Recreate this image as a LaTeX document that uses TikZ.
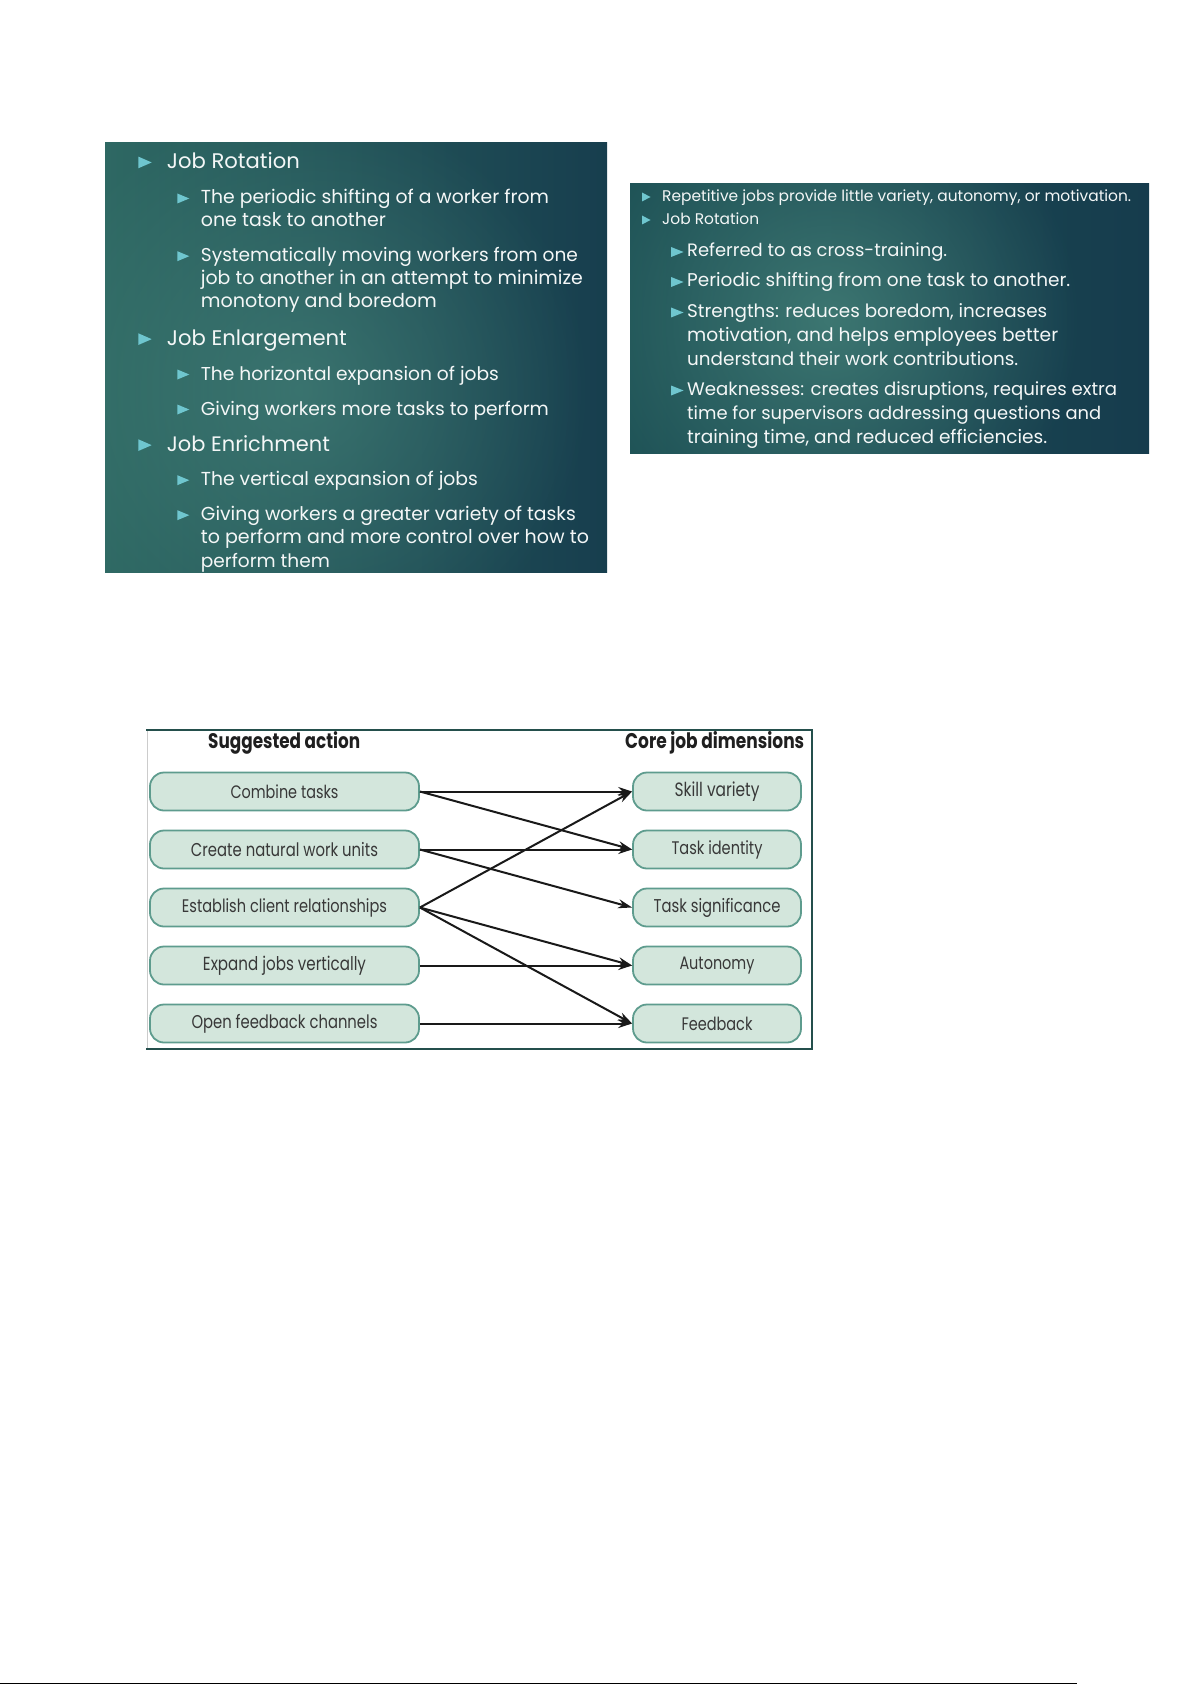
\documentclass[tikz,border=0pt]{standalone}
\usepackage{fontspec}
\usepackage{graphicx}
\setmainfont{Poppins}
\usetikzlibrary{arrows.meta,fadings}
\tikzfading[name=myglow, inner color=transparent!0, outer color=transparent!100]
\definecolor{bulc}{HTML}{6FC6CF}
\definecolor{slidetxt}{HTML}{F4F7F7}
\definecolor{boxfill}{HTML}{D3E6DC}
\definecolor{boxline}{HTML}{5E9C8E}
\definecolor{boxtxt}{HTML}{383838}
\definecolor{framec}{HTML}{244F4C}
\definecolor{lpL}{RGB}{46,104,99}
\definecolor{lpM}{RGB}{50,108,102}
\definecolor{lpR}{RGB}{23,62,78}
\definecolor{lpH}{RGB}{72,134,124}
\definecolor{rpL}{RGB}{30,82,86}
\definecolor{rpM}{RGB}{50,108,104}
\definecolor{rpR}{RGB}{22,60,77}
\definecolor{rpH}{RGB}{72,134,124}
\newcommand{\fitw}[2]{\resizebox{#1pt}{!}{#2}}
\newcommand{\fitd}[2]{\scalebox{1}[1.25]{\resizebox{#1pt}{!}{#2}}}
\newcommand{\bulA}[2]{\fill[bulc] (#1,#2-11.7) -- (#1,#2) -- (#1+13.4,#2-5.85) -- cycle;}
\newcommand{\bulB}[2]{\fill[bulc] (#1,#2-10.5) -- (#1,#2-0.5) -- (#1+12,#2-5.5) -- cycle;}
\newcommand{\bulC}[2]{\fill[bulc] (#1,#2-9) -- (#1,#2) -- (#1+8.5,#2-4.5) -- cycle;}
\newcommand{\bulD}[2]{\fill[bulc] (#1,#2-10) -- (#1,#2) -- (#1+12.5,#2-5) -- cycle;}
\tikzset{
  stxt/.style={anchor=base west, text=slidetxt, inner sep=0pt},
  actbox/.style={draw=boxline, fill=boxfill, line width=1.8pt, rounded corners=14pt,
    minimum width=269pt, minimum height=38pt, text=boxtxt, inner sep=0pt},
  dimbox/.style={actbox, minimum width=168pt},
  hdr/.style={anchor=base west, text=black!88, inner sep=0pt, font=\bfseries},
  link/.style={draw=black!90, line width=2pt, -{Stealth[length=14pt,width=9pt]}}
}
\begin{document}
\begin{tikzpicture}[x=1pt,y=-1pt]
\useasboundingbox (0,0) rectangle (1192,1685);
\fill[white] (0,0) rectangle (1192,1685);

% ---------------- left slide ----------------
\shade[left color=lpL, middle color=lpM, right color=lpR] (105,143) rectangle (607,572);
\begin{scope}
\clip (105,143) rectangle (607,572);
\fill[lpH, path fading=myglow, fill opacity=0.6] (300,390) circle (290);
\end{scope}

\bulA{138.3}{168.3}
\node[stxt] (l1) at (166.7,168.3) {\fitw{133}{Job Rotation}};
\bulB{177.3}{204}
\node[stxt] (l2) at (200.7,204) {\fitw{348}{The periodic shifting of a worker from}};
\node[stxt] (l3) at (200.7,226.7) {\fitw{185}{one task to another}};
\bulB{177.3}{261.7}
\node[stxt] (l4) at (200.7,261.7) {\fitw{377}{Systematically moving workers from one}};
\node[stxt] (l5) at (200.7,285) {\fitw{382}{job to another in an attempt to minimize}};
\node[stxt] (l6) at (200.7,308) {\fitw{236}{monotony and boredom}};
\bulA{138.3}{345}
\node[stxt] (l7) at (166.7,345) {\fitw{180}{Job Enlargement}};
\bulB{177.3}{380}
\node[stxt] (l8) at (200.7,380) {\fitw{298}{The horizontal expansion of jobs}};
\bulB{177.3}{415}
\node[stxt] (l9) at (200.7,415) {\fitw{348}{Giving workers more tasks to perform}};
\bulA{138.3}{451}
\node[stxt] (l10) at (166.7,451) {\fitw{163}{Job Enrichment}};
\bulB{177.3}{485.7}
\node[stxt] (l11) at (200.7,485.7) {\fitw{277}{The vertical expansion of jobs}};
\bulB{177.3}{520.7}
\node[stxt] (l12) at (200.7,520.7) {\fitw{375}{Giving workers a greater variety of tasks}};
\node[stxt] (l13) at (200.7,543.7) {\fitw{388}{to perform and more control over how to}};
\begin{scope}
\clip (105,143) rectangle (607,572);
\node[stxt] (l14) at (200.7,567) {\fitw{129}{perform them}};
\end{scope}

% ---------------- right slide ----------------
\shade[left color=rpL, middle color=rpM, right color=rpR] (630,184) rectangle (1149,453);
\begin{scope}
\clip (630,184) rectangle (1149,453);
\fill[rpH, path fading=myglow, fill opacity=0.75] (830,320) circle (250);
\end{scope}

\bulC{642}{201.5}
\node[stxt] (r1) at (662,201.5) {\fitw{469}{Repetitive jobs provide little variety, autonomy, or motivation.}};
\bulC{642}{224.5}
\node[stxt] (r2) at (662,224.5) {\fitw{97}{Job Rotation}};
\bulD{671}{257}
\node[stxt] (r3) at (687,257) {\fitw{260}{Referred to as cross-training.}};
\bulD{671}{287}
\node[stxt] (r4) at (687,287) {\fitw{383}{Periodic shifting from one task to another.}};
\bulD{671}{317.5}
\node[stxt] (r5) at (687,317.5) {\fitw{360}{Strengths: reduces boredom, increases}};
\node[stxt] (r6) at (687,341.5) {\fitw{371}{motivation, and helps employees better}};
\node[stxt] (r7) at (687,365.5) {\fitw{331}{understand their work contributions.}};
\bulD{671}{395.5}
\node[stxt] (r8) at (687,395.5) {\fitw{430}{Weaknesses: creates disruptions, requires extra}};
\node[stxt] (r9) at (687,419.5) {\fitw{414}{time for supervisors addressing questions and}};
\node[stxt] (r10) at (687,443) {\fitw{360}{training time, and reduced efficiencies.}};

% ---------------- diagram ----------------
\draw[black!20, line width=0.8pt] (147,730) -- (147,1049);
\draw[framec, line width=2pt] (146,730) -- (812,730) -- (812,1049) -- (146,1049);

\node[hdr] (h1) at (208,748) {\fitd{152}{Suggested action}};
\node[hdr] (h2) at (625,748) {\fitd{179}{Core job dimensions}};

\node[actbox] (a1) at (284.5,791.5) {\fitd{108}{Combine tasks}};
\node[actbox] (a2) at (284.5,849.5) {\fitd{187}{Create natural work units}};
\node[actbox] (a3) at (284.5,907.5) {\fitd{205}{Establish client relationships}};
\node[actbox] (a4) at (284.5,965.5) {\fitd{163}{Expand jobs vertically}};
\node[actbox] (a5) at (284.5,1023.5) {\fitd{186}{Open feedback channels}};

\node[dimbox] (d1) at (717,791.5) {\fitd{85}{Skill variety}};
\node[dimbox] (d2) at (717,849.5) {\fitd{91}{Task identity}};
\node[dimbox] (d3) at (717,907.5) {\fitd{127}{Task significance}};
\node[dimbox] (d4) at (717,965.5) {\fitd{75}{Autonomy}};
\node[dimbox] (d5) at (717,1023.5) {\fitd{71}{Feedback}};

\draw[link] (a1.east) -- (d1.west);
\draw[link] (a1.east) -- (d2.west);
\draw[link] (a2.east) -- (d2.west);
\draw[link] (a2.east) -- (d3.west);
\draw[link] (a3.east) -- (d1.west);
\draw[link] (a3.east) -- (d4.west);
\draw[link] (a3.east) -- (d5.west);
\draw[link] (a4.east) -- (d4.west);
\draw[link] (a5.east) -- (d5.west);

% page rule
\draw[black, line width=1.8pt] (0,1683.5) -- (1077,1683.5);
\end{tikzpicture}
\end{document}
